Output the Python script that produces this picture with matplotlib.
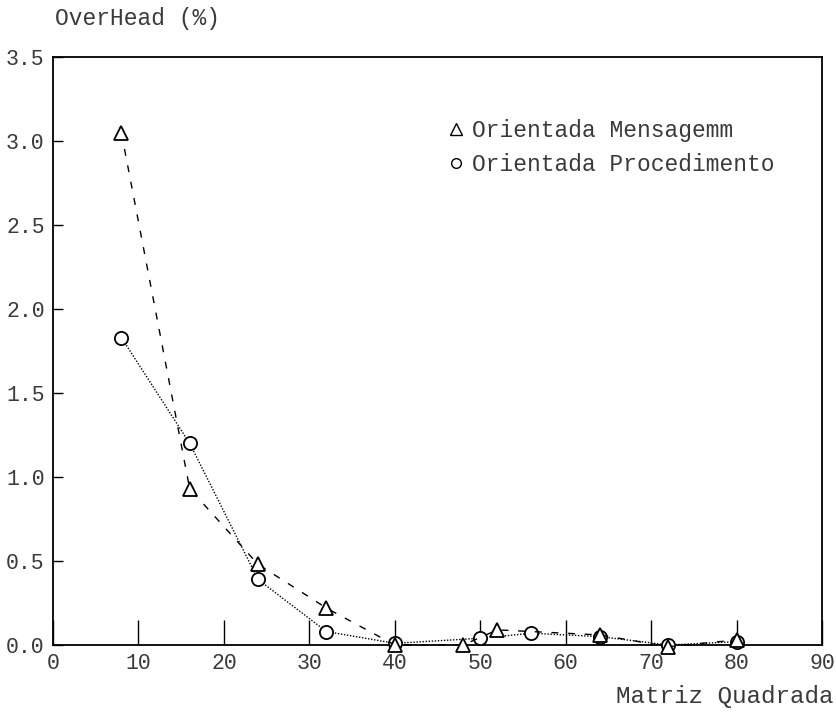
import matplotlib
matplotlib.use("Agg")
import matplotlib.pyplot as plt
from matplotlib.lines import Line2D

# ---- data ----
x_mensagem = [8, 16, 24, 32, 40, 48, 52, 64, 72, 80]
y_mensagem = [3.05, 0.93, 0.48, 0.22, 0.0, 0.0, 0.09, 0.06, -0.01, 0.03]

x_proced = [8, 16, 24, 32, 40, 50, 56, 64, 72, 80]
y_proced = [1.83, 1.20, 0.39, 0.08, 0.01, 0.04, 0.07, 0.05, 0.0, 0.02]

x_ticks = [0, 10, 20, 30, 40, 50, 60, 70, 80, 90]
y_ticks = [0.0, 0.5, 1.0, 1.5, 2.0, 2.5, 3.0, 3.5]
y_tick_labels = ["0.0", "0.5", "1.0", "1.5", "2.0", "2.5", "3.0", "3.5"]

label_mensagem = "Orientada Mensagemm"
label_proced = "Orientada Procedimento"
y_title = "OverHead (%)"
x_title = "Matriz Quadrada"

# ---- style ----
FONT = "Liberation Mono"
TXT = "#3a3a3a"
FS = 16.5
FS_TICK = 15.5

fig = plt.figure(figsize=(8.36, 7.18), dpi=100)
ax = fig.add_axes([53 / 836, 1 - 645 / 718, (822 - 53) / 836, (645 - 57) / 718])

ax.plot(x_proced, y_proced, color="black", lw=1.0, linestyle=(0, (1, 1.2)),
        marker="o", markersize=9.5, markerfacecolor="white",
        markeredgecolor="black", markeredgewidth=1.3, zorder=3, clip_on=False)
ax.plot(x_mensagem, y_mensagem, color="black", lw=1.0, linestyle=(0, (5, 7)),
        marker="^", markersize=10.5, markerfacecolor="white",
        markeredgecolor="black", markeredgewidth=1.3, zorder=4, clip_on=False)

ax.set_xlim(0, 90)
ax.set_ylim(0, 3.5)

ax.set_xticks(x_ticks)
ax.set_xticklabels([str(t) for t in x_ticks])
ax.set_yticks(y_ticks)
ax.set_yticklabels(y_tick_labels)

ax.tick_params(axis="x", direction="in", length=18, width=1.0, color="black",
               pad=6, labelsize=FS_TICK, labelcolor=TXT)
ax.tick_params(axis="y", direction="in", length=7, width=1.0, color="black",
               pad=6, labelsize=FS_TICK, labelcolor=TXT)
for lab in ax.get_xticklabels() + ax.get_yticklabels():
    lab.set_family(FONT)

for sp in ax.spines.values():
    sp.set_linewidth(1.3)
    sp.set_color("black")

# axis titles
fig.text(55 / 836, 1 - 19 / 718, y_title, family=FONT, fontsize=FS, color=TXT,
         ha="left", va="center")
fig.text(833 / 836, 1 - 697 / 718, x_title, family=FONT, fontsize=17.5, color=TXT,
         ha="right", va="center")

# legend
handles = [
    Line2D([], [], linestyle="none", marker="^", markersize=8,
           markerfacecolor="white", markeredgecolor="black", markeredgewidth=1.0),
    Line2D([], [], linestyle="none", marker="o", markersize=7,
           markerfacecolor="white", markeredgecolor="black", markeredgewidth=1.0),
]
leg = ax.legend(handles, [label_mensagem, label_proced], loc="upper right",
                bbox_to_anchor=((786 - 53) / 769, (645 - 108) / 588),
                frameon=False, handlelength=0.6, borderpad=0,
                handletextpad=0.4, labelspacing=0.45,
                prop={"family": FONT, "size": FS})
for t in leg.get_texts():
    t.set_color(TXT)

fig.savefig("out.png", dpi=100)
